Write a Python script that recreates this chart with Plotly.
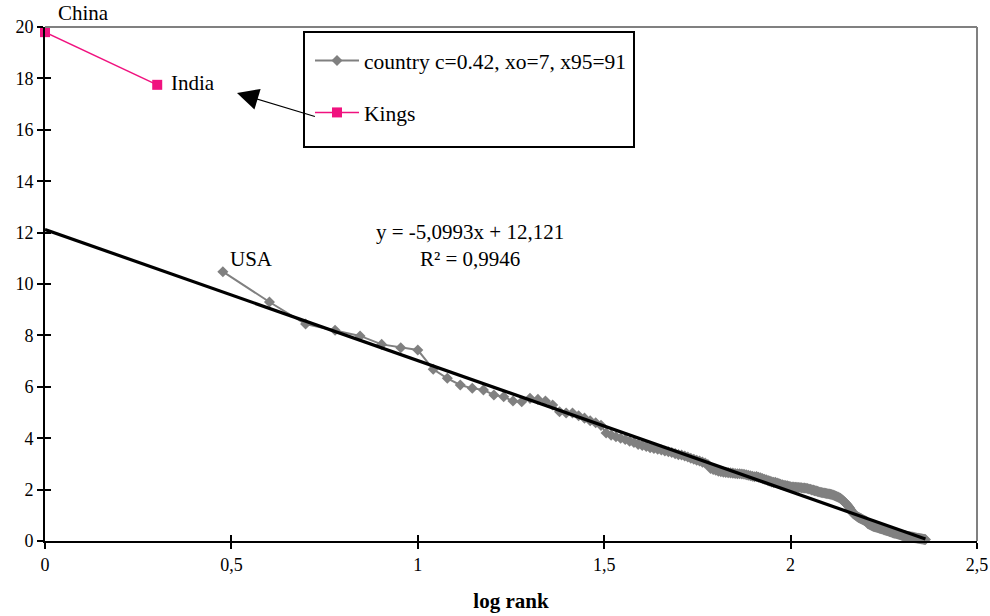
import numpy as np
import plotly.graph_objects as go

# ---- data ----
king_names = ["China", "India"]
king_rank = [1, 2]
king_vals = [19.8, 17.75]

country_first_rank = 3
country_vals = [
    10.48, 9.30, 8.44, 8.20, 7.98, 7.65, 7.52, 7.43,            # ranks 3-10
    6.68, 6.33, 6.07, 5.94, 5.88, 5.68, 5.61, 5.45, 5.42, 5.55,  # 11-20
    5.51, 5.45, 5.29, 5.03, 4.98, 4.98, 4.87, 4.78, 4.68, 4.60,  # 21-30
    4.50, 4.20, 4.12, 4.06, 4.00, 3.95, 3.88, 3.83, 3.76, 3.72,  # 31-40
    3.68, 3.63, 3.60, 3.57, 3.54, 3.50, 3.47, 3.44, 3.40, 3.36,  # 41-50
    3.35, 3.31, 3.27, 3.22, 3.18, 3.14, 3.11, 3.07, 3.03, 2.98,  # 51-60
    2.82, 2.78, 2.75, 2.72, 2.70, 2.68, 2.67, 2.66, 2.65, 2.64,  # 61-70
    2.63, 2.62, 2.62, 2.61, 2.60, 2.58, 2.56, 2.54, 2.52, 2.50,  # 71-80
    2.51, 2.48, 2.46, 2.43, 2.40, 2.38, 2.35, 2.33, 2.30, 2.28,  # 81-90
    2.28, 2.26, 2.24, 2.21, 2.19, 2.17, 2.16, 2.15, 2.13, 2.11,  # 91-100
    2.10, 2.10, 2.09, 2.09, 2.08, 2.08, 2.07, 2.06, 2.06, 2.05,  # 101-110
    2.04, 2.02, 2.01, 1.99, 1.98, 1.96, 1.95, 1.93, 1.92, 1.90,  # 111-120
    1.89, 1.88, 1.87, 1.86, 1.85, 1.84, 1.83, 1.82, 1.81, 1.79,  # 121-130
    1.77, 1.75, 1.73, 1.71, 1.68, 1.66, 1.62, 1.58, 1.54, 1.50,  # 131-140
    1.45, 1.40, 1.34, 1.28, 1.22, 1.15, 1.08, 1.04, 1.01, 0.98,  # 141-150
    0.94, 0.92, 0.90, 0.88, 0.86, 0.84, 0.82, 0.80, 0.78, 0.76,  # 151-160
    0.68, 0.66, 0.64, 0.62, 0.60, 0.58, 0.57, 0.56, 0.55, 0.54,  # 161-170
    0.53, 0.52, 0.50, 0.49, 0.48, 0.47, 0.46, 0.44, 0.43, 0.42,  # 171-180
    0.41, 0.40, 0.39, 0.37, 0.36, 0.35, 0.34, 0.32, 0.31, 0.30,  # 181-190
    0.30, 0.29, 0.28, 0.27, 0.26, 0.25, 0.24, 0.23, 0.22, 0.21,  # 191-200
    0.21, 0.20, 0.20, 0.19, 0.18, 0.18, 0.17, 0.17, 0.16, 0.16,  # 201-210
    0.15, 0.15, 0.14, 0.14, 0.13, 0.13, 0.12, 0.12, 0.11, 0.11,  # 211-220
    0.10, 0.10, 0.09, 0.09, 0.08, 0.08, 0.07, 0.07, 0.06, 0.06,  # 221-230
]
country_rank = list(range(country_first_rank, country_first_rank + len(country_vals)))

trend_slope = -5.0993
trend_intercept = 12.121
trend_x_range = [0.0, 2.3617]

x_tickvals = [0, 0.5, 1, 1.5, 2, 2.5]
x_ticktext = ["0", "0,5", "1", "1,5", "2", "2,5"]
y_tickvals = [0, 2, 4, 6, 8, 10, 12, 14, 16, 18, 20]

legend_country = "country c=0.42, xo=7, x95=91"
legend_kings = "Kings"
equation_text = "y = -5,0993x + 12,121<br>R² = 0,9946"
x_title = "log rank"

# ---- derived ----
cx = np.log10(country_rank)
kx = np.log10(king_rank)
tx = np.array(trend_x_range)
ty = trend_intercept + trend_slope * tx

GRAY = "#808080"
MAG = "#F0127F"
FONT = "Liberation Serif"
AFS = 21   # annotation font size
LFS = 21.5 # legend font size
TFS = 18   # tick font size

fig = go.Figure()

fig.add_trace(go.Scatter(
    x=cx, y=country_vals, mode="lines+markers", name=legend_country,
    line=dict(color=GRAY, width=2),
    marker=dict(symbol="diamond", size=8.5, color=GRAY),
    legendgroup="a", cliponaxis=False))

fig.add_trace(go.Scatter(
    x=kx, y=king_vals, mode="lines+markers", name=legend_kings,
    line=dict(color=MAG, width=1.5),
    marker=dict(symbol="square", size=10, color=MAG),
    legendgroup="b", cliponaxis=False))

# invisible trace for crossing-tick overlay axes
fig.add_trace(go.Scatter(x=[0], y=[0], xaxis="x2", yaxis="y2", mode="markers",
                         marker=dict(opacity=0), showlegend=False, hoverinfo="skip"))

fig.add_trace(go.Scatter(
    x=tx, y=ty, mode="lines", line=dict(color="black", width=3.2),
    showlegend=False, hoverinfo="skip"))

annos = [
    dict(x=kx[0], y=20, text=king_names[0], xanchor="left", yanchor="middle",
         xshift=11, yshift=14, showarrow=False),
    dict(x=kx[1], y=17.75, text=king_names[1], xanchor="left", yanchor="middle",
         xshift=12, yshift=2, showarrow=False),
    dict(x=cx[0], y=10.45, text="USA", xanchor="center", yanchor="middle",
         xshift=29, yshift=13, showarrow=False),
    dict(x=1.14, y=11.42, text=equation_text, xanchor="center", yanchor="middle",
         yshift=2, showarrow=False),
    dict(x=0.515, y=17.43, ax=0.728, ay=16.5, axref="x", ayref="y", xref="x", yref="y",
         text="", showarrow=True, arrowhead=2, arrowsize=3.3, arrowwidth=1.3, arrowcolor="black"),
]
for a in annos:
    a.setdefault("xref", "x")
    a.setdefault("yref", "y")
    a.setdefault("font", dict(family=FONT, size=AFS, color="black"))

fig.update_layout(
    width=990, height=616,
    margin=dict(l=45, r=13, t=27, b=75, autoexpand=False),
    paper_bgcolor="white", plot_bgcolor="white",
    font=dict(family=FONT, size=TFS, color="black"),
    annotations=annos,
    showlegend=True,
    legend=dict(x=(310 - 45) / 932, y=(541 - 40) / 514, xanchor="left", yanchor="top",
                borderwidth=0, bgcolor="rgba(0,0,0,0)",
                font=dict(family=FONT, size=LFS), tracegroupgap=21,
                itemwidth=44),
    xaxis=dict(range=[0, 2.5], tickvals=x_tickvals, ticktext=x_ticktext, automargin=False,
               showgrid=False, zeroline=False, showline=True, linecolor="black", linewidth=2,
               ticks="outside", ticklen=6, tickwidth=1.5, tickcolor="black",
               tickfont=dict(family=FONT, size=TFS),
               title=dict(text="<b>" + x_title + "</b>", font=dict(family=FONT, size=AFS), standoff=20)),
    yaxis=dict(range=[0, 20], tickvals=y_tickvals, automargin=False,
               showgrid=False, zeroline=False, showline=True, linecolor="black", linewidth=2,
               ticks="outside", ticklen=6, tickwidth=1.5, tickcolor="black",
               tickfont=dict(family=FONT, size=TFS)),
    xaxis2=dict(range=[0, 2.5], overlaying="x", anchor="y", side="bottom", automargin=False,
                tickvals=x_tickvals, showticklabels=False, showgrid=False, zeroline=False,
                ticks="inside", ticklen=6, tickwidth=1.5, tickcolor="black"),
    yaxis2=dict(range=[0, 20], overlaying="y", anchor="x", side="left", automargin=False,
                tickvals=y_tickvals, showticklabels=False, showgrid=False, zeroline=False,
                ticks="inside", ticklen=6, tickwidth=1.5, tickcolor="black"),
    shapes=[
        dict(type="line", xref="paper", yref="paper", x0=0, x1=1, y0=1, y1=1,
             line=dict(color=GRAY, width=2)),
        dict(type="line", xref="paper", yref="paper", x0=1, x1=1, y0=0, y1=1,
             line=dict(color=GRAY, width=2)),
        # legend frame
        dict(type="rect", xref="paper", yref="paper",
             x0=(304 - 45) / 932, x1=(634 - 45) / 932,
             y0=(541 - 147) / 514, y1=(541 - 32) / 514,
             line=dict(color="black", width=2), fillcolor="rgba(0,0,0,0)", layer="above"),
    ],
)

fig.write_html("out.html")
